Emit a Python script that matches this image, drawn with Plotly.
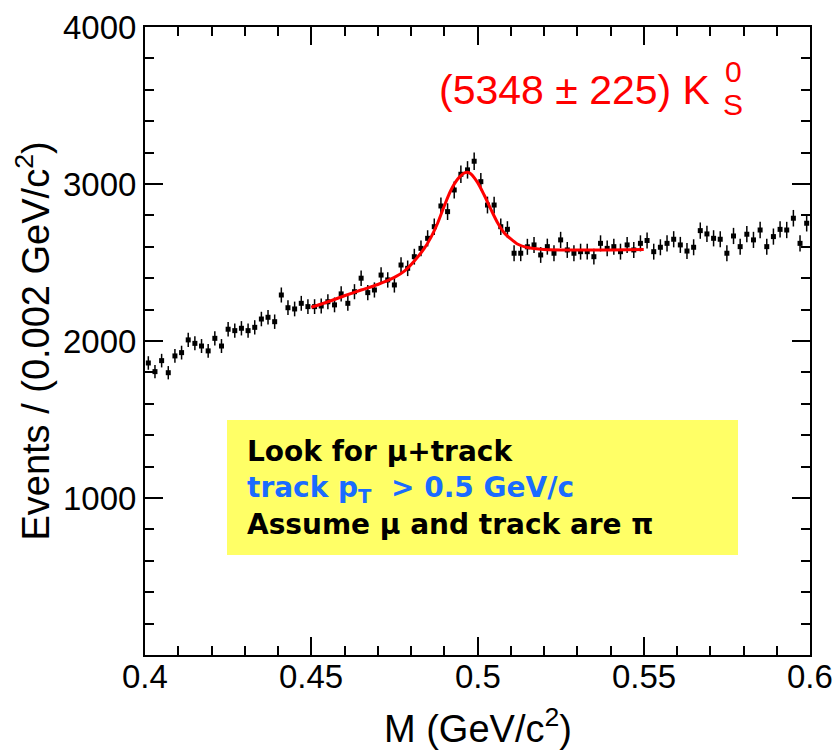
import math
import plotly.graph_objects as go

# ---------------- data ----------------
bin_low = 0.400
bin_width = 0.002
counts = [1860, 1805, 1875, 1798, 1905, 1926, 2007, 1985, 1968, 1937,
          2017, 1968, 2075, 2066, 2081, 2066, 2087, 2140, 2151, 2123,
          2293, 2212, 2204, 2240, 2219, 2219, 2223, 2250, 2230, 2300,
          2240, 2314, 2400, 2308, 2325, 2420, 2389, 2357, 2484, 2463,
          2537, 2590, 2654, 2728, 2860, 2824, 2962, 3062, 3090, 3145,
          3015, 2866, 2866, 2728, 2711, 2559, 2559, 2600, 2612, 2548,
          2601, 2559, 2644, 2580, 2559, 2569, 2569, 2537, 2622, 2590,
          2601, 2569, 2612, 2580, 2622, 2640, 2569, 2597, 2622, 2648,
          2612, 2573, 2597, 2703, 2682, 2654, 2648, 2559, 2669, 2601,
          2680, 2644, 2707, 2601, 2665, 2711, 2707, 2782, 2622, 2750]
mass = [bin_low + bin_width * (i + 0.5) for i in range(len(counts))]
errors = [math.sqrt(c) for c in counts]

fit_mass = [0.450, 0.455, 0.460, 0.465, 0.470, 0.475, 0.478, 0.481, 0.484,
            0.486, 0.488, 0.490, 0.492, 0.494, 0.496, 0.497, 0.498, 0.500,
            0.502, 0.504, 0.506, 0.508, 0.510, 0.512, 0.515, 0.520, 0.530,
            0.540, 0.550]
fit_counts = [2215, 2250, 2288, 2325, 2360, 2405, 2445, 2510, 2590,
              2660, 2750, 2860, 2960, 3030, 3070, 3075, 3065, 3010,
              2930, 2840, 2755, 2690, 2650, 2618, 2595, 2583, 2580,
              2580, 2583]

x_tickvals = [0.40, 0.45, 0.50, 0.55, 0.60]
x_ticktext = ["0.4", "0.45", "0.5", "0.55", "0.6"]
y_tickvals = [1000, 2000, 3000, 4000]
y_ticktext = ["1000", "2000", "3000", "4000"]

# ---------------- figure ----------------
W, H = 837, 752
L, T = 145, 27
R = W - 810
B = H - 655
pw, ph = W - L - R, H - T - B

def px(xp):
    """picture x pixel -> paper fraction"""
    return (xp - L) / pw

def py(yp):
    """picture y pixel -> paper fraction"""
    return (H - B - yp) / ph

fig = go.Figure()
fig.add_trace(go.Scatter(
    x=mass, y=counts, mode="markers",
    marker=dict(symbol="square", size=5, color="black"),
    error_y=dict(type="data", array=errors, visible=True,
                 color="black", thickness=1.5, width=0),
    showlegend=False, hoverinfo="x+y"))
fig.add_trace(go.Scatter(
    x=fit_mass, y=fit_counts, mode="lines",
    line=dict(color="#ff0000", width=3, shape="spline", smoothing=0.8),
    showlegend=False))

font_main = "Liberation Sans, Arial, Helvetica, sans-serif"
axis_common = dict(showline=True, linecolor="black", linewidth=2,
                   mirror="allticks", ticks="inside", ticklen=18,
                   tickwidth=1.5, tickcolor="black", showgrid=False,
                   zeroline=False,
                   tickfont=dict(family=font_main, size=33, color="black"))

fig.update_xaxes(range=[0.4, 0.6], tickmode="array", tickvals=x_tickvals,
                 ticktext=x_ticktext, showticklabels=False,
                 minor=dict(ticks="inside", ticklen=9, tickwidth=1.5,
                            tickcolor="black", dtick=0.01, tick0=0.4),
                 **axis_common)
fig.update_yaxes(range=[0, 4000], tickmode="array", tickvals=y_tickvals,
                 ticktext=y_ticktext,
                 minor=dict(ticks="inside", ticklen=9, tickwidth=1.5,
                            tickcolor="black", dtick=200, tick0=0),
                 title=dict(text="Events / (0.002 GeV/c<sup>2</sup>)",
                            font=dict(family=font_main, size=38, color="black"),
                            standoff=2),
                 **axis_common)

# x tick labels (placed on the x data scale)
for val, lab in zip(x_tickvals, x_ticktext):
    fig.add_annotation(xref="x", yref="paper", x=val, y=py(676),
                       xanchor="center", yanchor="middle", showarrow=False,
                       text=lab,
                       font=dict(family=font_main, size=33, color="black"))
# x axis title
fig.add_annotation(xref="paper", yref="paper", x=0.5, y=py(726),
                   xanchor="center", yanchor="middle", showarrow=False,
                   text="M (GeV/c<sup>2</sup>)",
                   font=dict(family=font_main, size=38, color="black"))

# yellow box
fig.add_shape(type="rect", xref="paper", yref="paper",
              x0=px(227), x1=px(738), y0=py(555), y1=py(420),
              fillcolor="#ffff66", line=dict(width=0), layer="above")

box_font = "DejaVu Sans, Verdana, sans-serif"
fig.add_annotation(
    xref="paper", yref="paper", x=px(245), y=py(488),
    xanchor="left", yanchor="middle", align="left", showarrow=False,
    text=("<b>Look for \u03bc+track</b><br>"
          "<b><span style='color:#1a6bff'>track p<sub>T</sub>\u00a0\u00a0&gt; 0.5 GeV/c</span></b><br>"
          "<b>Assume \u03bc and track are \u03c0</b>"),
    font=dict(family=box_font, size=28, color="black"))

# red yield label
fig.add_annotation(
    xref="paper", yref="paper", x=px(437), y=py(90),
    xanchor="left", yanchor="middle", showarrow=False,
    text="(5348 \u00b1 225) K",
    font=dict(family=font_main, size=41, color="#ff0000"))
fig.add_annotation(
    xref="paper", yref="paper", x=px(733), y=py(71),
    xanchor="center", yanchor="middle", showarrow=False,
    text="0", font=dict(family=font_main, size=30, color="#ff0000"))
fig.add_annotation(
    xref="paper", yref="paper", x=px(733), y=py(104),
    xanchor="center", yanchor="middle", showarrow=False,
    text="S", font=dict(family=font_main, size=30, color="#ff0000"))

fig.update_layout(width=W, height=H,
                  margin=dict(l=L, r=R, t=T, b=B, autoexpand=False),
                  paper_bgcolor="white", plot_bgcolor="white")

fig.write_html("out.html", config={"displayModeBar": False},
               post_script="document.body.style.margin='0';"
                           "document.body.style.overflow='hidden';")
